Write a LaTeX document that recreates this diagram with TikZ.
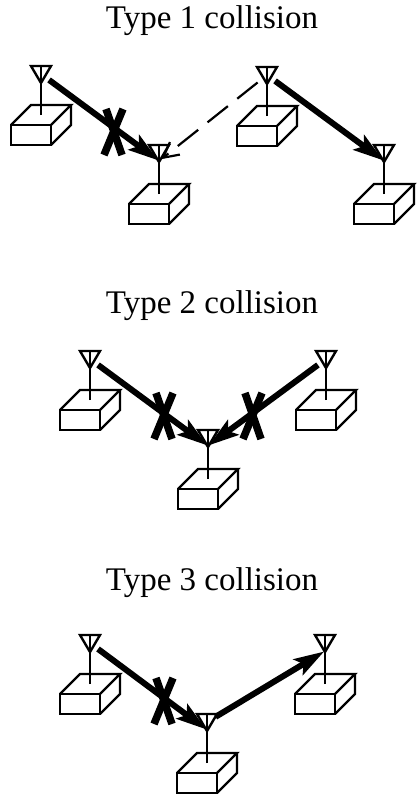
\documentclass[tikz,border=0pt]{standalone}
\usepackage{fontspec}
\setmainfont{Liberation Serif}
\usetikzlibrary{arrows.meta}
\tikzset{
  box/.style={line width=2.4pt, line join=miter},
  sent/.style={line width=6pt, -{Stealth[length=30pt,width=18pt,inset=6pt]}, shorten <=10pt, shorten >=1pt},
  heard/.style={line width=2.2pt, dash pattern=on 26pt off 12pt, -{Straight Barb[length=15pt,width=16pt]}, shorten <=12pt, shorten >=3pt},
  xmark/.style={line width=7.5pt},
  title/.style={anchor=base, font=\fontsize{33}{38}\selectfont},
  station/.pic={
    \draw[box] (-30,10) rectangle (10,30);
    \draw[box] (-30,10) -- (-10,-10) -- (30,-10) -- (10,10);
    \draw[box] (30,-10) -- (30,10) -- (10,30);
    \draw[box] (0,0) -- (0,-49);
    \draw[box] (-10,-49) -- (10,-49) -- (0,-32) -- cycle;
    \coordinate (-ant) at (0,-41);
    \coordinate (-tip) at (0,-33);
  },
  cross/.pic={
    \draw[xmark] (-8,-23) -- (8,23);
    \draw[xmark] (9,-23) -- (-10,23);
  }
}
\begin{document}
\begin{tikzpicture}[x=1pt,y=-1pt]
\useasboundingbox (0,0) rectangle (417,795);

\node[title] (type1) at (212,28) {Type 1 collision};
\pic (s1) at (41,115) {station};
\pic (s2) at (159,194) {station};
\pic (s3) at (267,116) {station};
\pic (s4) at (384,194) {station};
\path[draw,sent] (s1-ant) -- (s2-tip);
\path[draw,heard] (s3-ant) -- (s2-tip);
\path[draw,sent] (s3-ant) -- (s4-tip);
\pic at (114,132) {cross};

\node[title] (type2) at (212,313) {Type 2 collision};
\pic (t1) at (90,400) {station};
\pic (t2) at (208,479) {station};
\pic (t3) at (326,400) {station};
\path[draw,sent] (t1-ant) -- (t2-tip);
\path[draw,sent] (t3-ant) -- (t2-tip);
\pic at (164,416) {cross};
\pic at (253,416) {cross};

\node[title] (type3) at (212,590) {Type 3 collision};
\pic (u1) at (90,684) {station};
\pic (u2) at (207,763) {station};
\pic (u3) at (325,684) {station};
\path[draw,sent] (u1-ant) -- (u2-tip);
\path[draw,sent] (u2-ant) -- (u3-tip);
\pic at (164,701) {cross};
\end{tikzpicture}
\end{document}
